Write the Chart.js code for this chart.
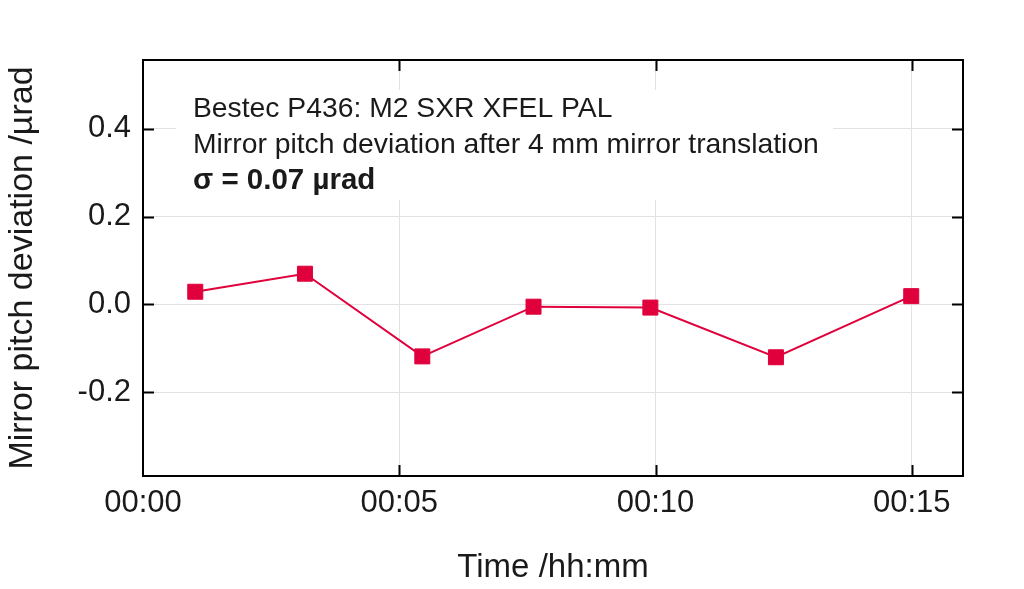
<!DOCTYPE html>
<html>
<head>
<meta charset="utf-8">
<script src="https://cdn.jsdelivr.net/npm/chart.js@4"></script>
<style>
html,body{margin:0;padding:0;background:#fff;}
#wrap{width:1024px;height:589px;position:relative;}
</style>
</head>
<body>
<div id="wrap"><canvas id="c"></canvas></div>
<script>
// Data (time in minutes, deviation in µrad)
const timeMin   = [1.02, 3.16, 5.45, 7.62, 9.90, 12.35, 14.99];
const deviation = [0.029, 0.070, -0.118, -0.005, -0.007, -0.120, 0.019];
const xTickValues = [0, 5, 10, 15];
const yTickValues = [-0.2, 0.0, 0.2, 0.4];
const annotationLines = [
  'Bestec P436: M2 SXR XFEL PAL',
  'Mirror pitch deviation after 4 mm mirror translation',
  'σ = 0.07 µrad'
];
const xTitle = 'Time /hh:mm';
const yTitle = 'Mirror pitch deviation /µrad';

const RED = '#E0003C';
const TXT = '#1a1a1a';
const FONT = '"Liberation Sans", Arial, Helvetica, sans-serif';

const points = timeMin.map((t, i) => ({x: t, y: deviation[i]}));

const framePlugin = {
  id: 'frame',
  beforeDatasetsDraw(chart) {
    const {ctx} = chart;
    ctx.save();
    ctx.fillStyle = '#fff';
    ctx.fillRect(176, 90, 833 - 176, 200 - 90);
    ctx.fillStyle = TXT;
    ctx.textBaseline = 'alphabetic';
    ctx.textAlign = 'left';
    ctx.font = '28.3px ' + FONT;
    ctx.fillText(annotationLines[0], 193, 117);
    ctx.fillText(annotationLines[1], 193, 153);
    ctx.font = 'bold 29.5px ' + FONT;
    ctx.fillText(annotationLines[2], 193, 189);
    ctx.restore();
  },
  afterDatasetsDraw(chart) {
    const {ctx, chartArea: a, scales} = chart;
    ctx.save();
    ctx.strokeStyle = '#000';
    ctx.lineWidth = 2;
    const L = 11;
    ctx.beginPath();
    scales.x.ticks.forEach(t => {
      const px = Math.round(scales.x.getPixelForValue(t.value)) + 0.5;
      if (px - a.left < 3) return;
      ctx.moveTo(px, a.bottom); ctx.lineTo(px, a.bottom - L);
      ctx.moveTo(px, a.top); ctx.lineTo(px, a.top + L);
    });
    scales.y.ticks.forEach(t => {
      const py = Math.round(scales.y.getPixelForValue(t.value)) + 0.5;
      ctx.moveTo(a.left, py); ctx.lineTo(a.left + L, py);
      ctx.moveTo(a.right, py); ctx.lineTo(a.right - L, py);
    });
    ctx.stroke();
    ctx.strokeRect(a.left, a.top, a.right - a.left, a.bottom - a.top);
    ctx.restore();
  }
};

new Chart(document.getElementById('c'), {
  type: 'line',
  data: {
    datasets: [{
      data: points,
      borderColor: RED,
      backgroundColor: RED,
      borderWidth: 2,
      pointStyle: 'rect',
      pointRadius: 10.6,
      pointBorderWidth: 1,
      pointBorderColor: RED,
      pointBackgroundColor: RED,
      tension: 0,
      clip: false
    }]
  },
  options: {
    responsive: true,
    maintainAspectRatio: false,
    animation: false,
    layout: {padding: {left: 2, top: 60, right: 61, bottom: 1}},
    plugins: {legend: {display: false}, tooltip: {enabled: false}},
    scales: {
      x: {
        type: 'linear',
        min: 0, max: 16,
        afterFit(s) { s.height = 112; },
        afterBuildTicks(s) { s.ticks = xTickValues.map(v => ({value: v})); },
        ticks: {
          includeBounds: false,
          stepSize: 5,
          padding: 9,
          color: TXT,
          font: {family: FONT, size: 31},
          maxRotation: 0,
          callback: v => '00:' + String(v).padStart(2, '0')
        },
        grid: {color: '#e2e2e2', lineWidth: 1, drawTicks: false},
        border: {display: false},
        title: {display: true, text: xTitle, color: TXT, font: {family: FONT, size: 33}, padding: 0}
      },
      y: {
        min: -0.39, max: 0.556,
        afterFit(s) { s.width = 141; },
        afterBuildTicks(s) { s.ticks = yTickValues.map(v => ({value: v})); },
        ticks: {
          includeBounds: false,
          stepSize: 0.2,
          padding: 12,
          color: TXT,
          font: {family: FONT, size: 31},
          callback: v => (Math.abs(v) < 1e-9 ? 0 : v).toFixed(1)
        },
        grid: {color: '#e2e2e2', lineWidth: 1, drawTicks: false},
        border: {display: false},
        title: {display: true, text: yTitle, color: TXT, font: {family: FONT, size: 34}, padding: 0}
      }
    }
  },
  plugins: [framePlugin]
});
</script>
</body>
</html>
